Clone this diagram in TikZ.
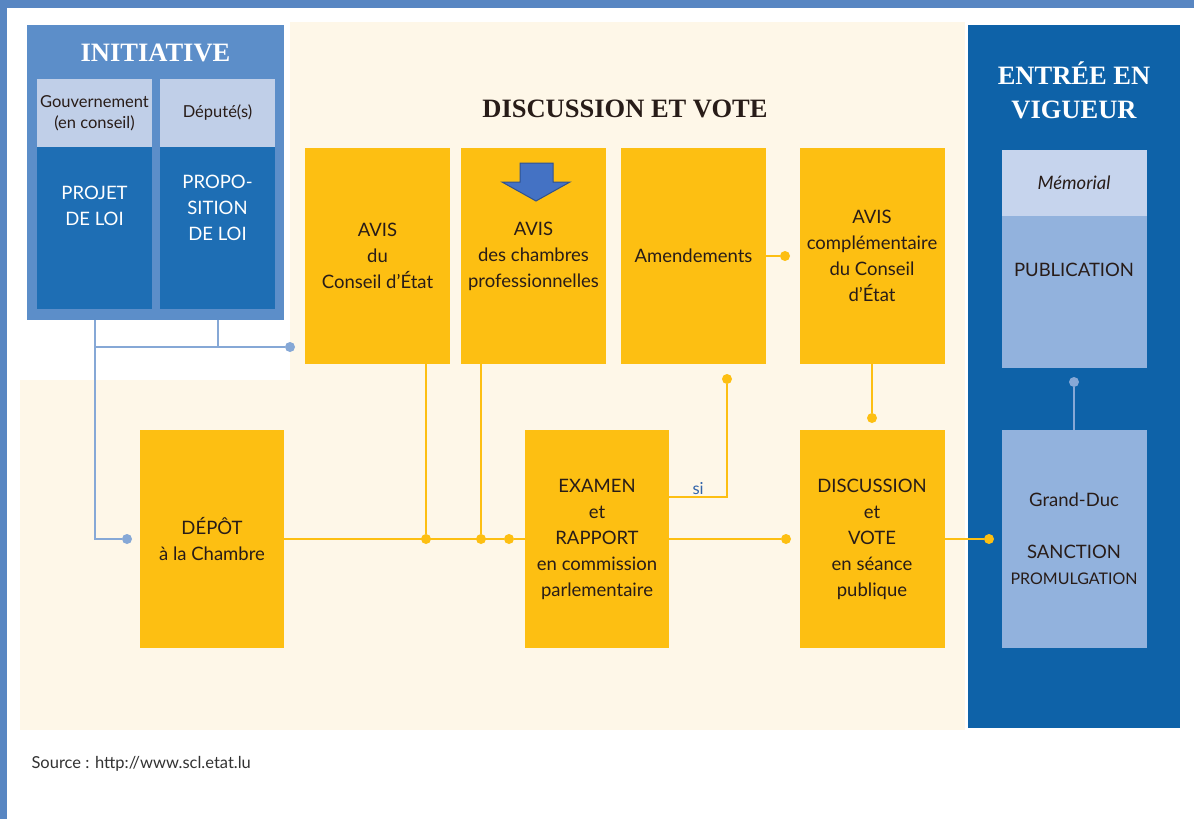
\documentclass[tikz,border=0pt]{standalone}
\usepackage{fontspec}
\setmainfont{Lato}
\newfontfamily\titrefont{Liberation Serif}
\usetikzlibrary{positioning}

\definecolor{cadre}{RGB}{88,134,194}
\definecolor{creme}{RGB}{254,247,232}
\definecolor{bleuinit}{RGB}{92,142,201}
\definecolor{bleuclair}{RGB}{192,207,232}
\definecolor{bleufonce}{RGB}{30,110,180}
\definecolor{jaune}{RGB}{253,191,18}
\definecolor{panneau}{RGB}{14,98,168}
\definecolor{memo}{RGB}{198,212,237}
\definecolor{pub}{RGB}{146,178,221}
\definecolor{trait}{RGB}{134,168,214}
\definecolor{encre}{RGB}{40,28,24}
\definecolor{sibleu}{RGB}{50,100,170}
\definecolor{fleche}{RGB}{68,114,196}
\definecolor{flechebord}{RGB}{47,82,143}
\definecolor{gris}{RGB}{50,50,50}

\newcommand\corps{\fontsize{18.5}{26}\selectfont}
\newcommand\petit{\fontsize{16.5}{21}\selectfont}

\begin{document}
\begin{tikzpicture}[x=1pt,y=-1pt,
    boite/.style={fill=jaune,minimum width=145,minimum height=216,inner sep=0,align=center,text=encre,font=\corps},
    bleue/.style={fill=#1,minimum width=115,inner sep=0,align=center},
    blanc/.style={align=center,text=white,font=\corps},
    titre/.style={align=center,font=\titrefont\bfseries\fontsize{26.5}{34}\selectfont},
    point/.style={circle,fill=#1,inner sep=0,minimum size=10},
    lbleu/.style={draw=trait,line width=2},
    ljaune/.style={draw=jaune,line width=2}]
    \useasboundingbox (0,0) rectangle (1194,819);

    % cadre et fonds
    \fill[cadre] (0,0) rectangle (1194,8);
    \fill[cadre] (0,0) rectangle (7,819);
    \fill[creme] (290,22) rectangle (965,380);
    \fill[creme] (20,380) rectangle (965,730);

    % initiative
    \node[fill=bleuinit,minimum width=257,minimum height=295] (initiative) at (155.5,172.5) {};
    \node[titre,text=white] (titreinit) at (155.5,53) {INITIATIVE};
    \node[bleue=bleuclair,minimum height=68,font=\petit,text=encre] (gouv) at (94.5,113) {Gouvernement\\(en conseil)};
    \node[bleue=bleuclair,minimum height=68,font=\petit,text=encre] (depute) at (217.5,113) {Député(s)};
    \node[bleue=bleufonce,minimum height=162] (projet) at (94.5,228) {};
    \node[bleue=bleufonce,minimum height=162] (proposition) at (217.5,228) {};
    \node[blanc] (projett) at ([yshift=22]projet.center) {PROJET\\DE LOI};
    \node[blanc] (propt) at ([yshift=20]proposition.center) {PROPO-\\SITION\\DE LOI};

    % discussion et vote
    \node[titre,text=encre] (titredisc) at (625,109) {DISCUSSION ET VOTE};
    \node[boite] (avisce) at (377.5,256) {AVIS\\du\\Conseil d'État};
    \node[boite] (avischp) at (533.5,256) {AVIS\\des chambres\\professionnelles};
    \node[boite] (amend) at (693.5,256) {Amendements};
    \node[boite] (aviscompl) at (872,256) {AVIS\\complémentaire\\du Conseil\\d'État};
    \node[boite,minimum width=144,minimum height=218] (depot) at (212,539) {DÉPÔT\\à la Chambre};
    \node[boite,minimum width=144,minimum height=218] (examen) at (597,539) {EXAMEN\\et\\RAPPORT\\en commission\\parlementaire};
    \node[boite,minimum height=218] (discvote) at (872,539) {DISCUSSION\\et\\VOTE\\en séance\\publique};
    \filldraw[fill=fleche,draw=flechebord,line width=1] (520,163) -- (553,163) -- (553,182) -- (570,182)
        -- (536,201) -- (502,182) -- (520,182) -- cycle;

    % entree en vigueur
    \node[fill=panneau,minimum width=212,minimum height=703,inner sep=0] (entree) at (1074,376.5) {};
    \node[titre,text=white] (titreentree) at (1074,90) {ENTRÉE EN\\VIGUEUR};
    \node[bleue=memo,minimum width=145,minimum height=66,font=\corps\itshape,text=encre] (memorial) at (1074,183) {Mémorial};
    \node[bleue=pub,minimum width=145,minimum height=152] (publication) at (1074,292) {};
    \node[font=\corps,text=encre] (pubt) at ([yshift=22]publication.center) {PUBLICATION};
    \node[bleue=pub,minimum width=145,minimum height=218,font=\corps,text=encre] (sanction) at (1074,539)
        {Grand-Duc\\[26pt]SANCTION\\{\fontsize{16}{21}\selectfont PROMULGATION}};

    % liaisons
    \node[point=trait] (pdepot) at (127,539) {};
    \node[point=trait] (pce) at (290,347) {};
    \draw[lbleu] (initiative.south -| projet) |- (pdepot);
    \draw[lbleu] (initiative.south -| projet) |- (pce);
    \draw[lbleu] (initiative.south -| proposition) -- (pce -| proposition);

    \node[point=jaune] (p1) at (426,539) {};
    \node[point=jaune] (p2) at (481,539) {};
    \node[point=jaune] (pexamen) at (509,539) {};
    \node[point=jaune] (pamend) at (727,379) {};
    \node[point=jaune] (pcompl) at (785,256) {};
    \node[point=jaune] (pdisc) at (872,418) {};
    \node[point=jaune] (pvote) at (786,539) {};
    \node[point=jaune] (psanction) at (989,539) {};
    \node[point=trait] (ppub) at (1074,382) {};
    \draw[ljaune] (depot) -- (pexamen) -- (examen);
    \draw[ljaune] (avisce.south -| p1) -- (p1);
    \draw[ljaune] (avischp.south -| p2) -- (p2);
    \draw[ljaune] ([yshift=42]examen.east) -| node[pos=.25,above=2,font=\petit,text=sibleu] (si) {si} (pamend);
    \draw[ljaune] (amend) -- (pcompl);
    \draw[ljaune] (aviscompl) -- (pdisc);
    \draw[ljaune] (examen) -- (pvote);
    \draw[ljaune] (discvote) -- (psanction);
    \draw[lbleu] (sanction) -- (ppub);

    \node[font=\petit,text=gris,anchor=west] (source) at (28,764) {Source : http://www.scl.etat.lu};
\end{tikzpicture}
\end{document}
